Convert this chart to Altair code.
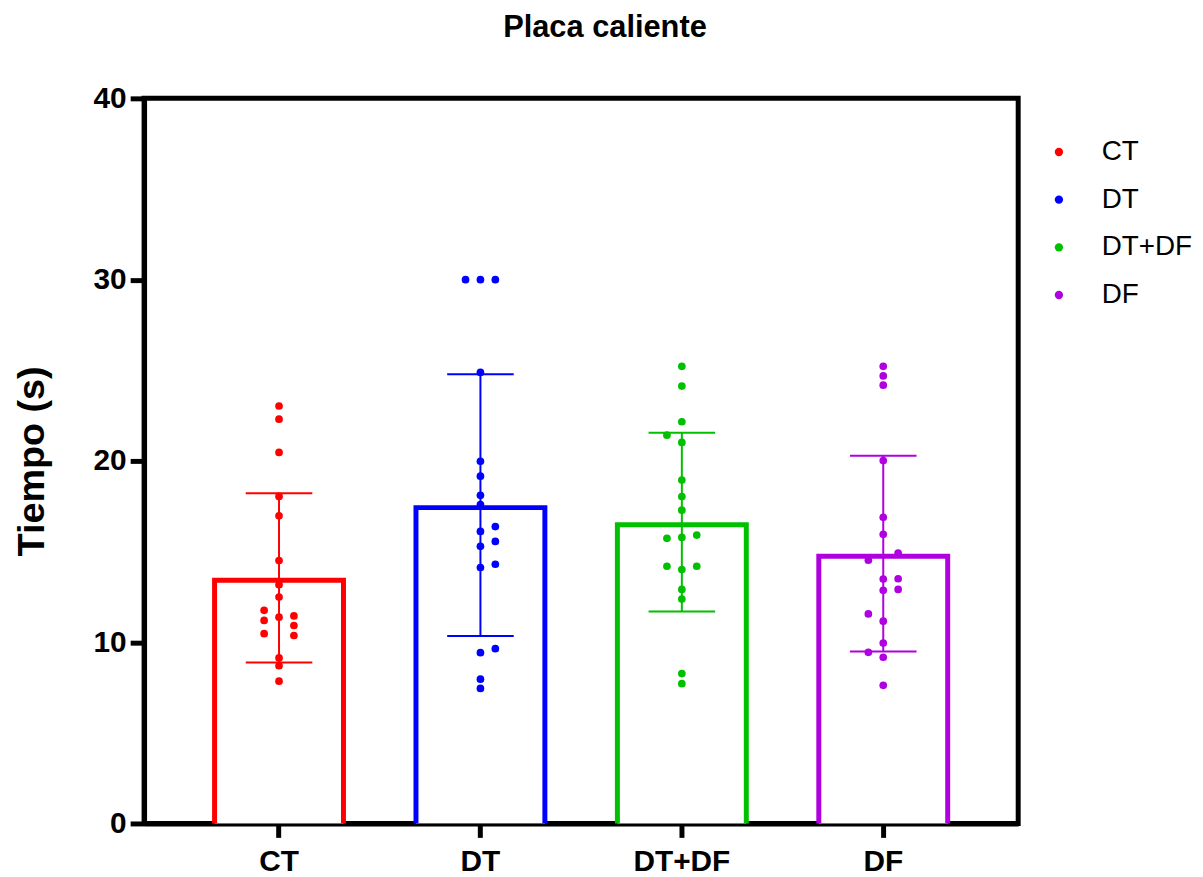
import altair as alt
import pandas as pd

groups = ["CT", "DT", "DT+DF", "DF"]
colors = ["#FF0000", "#0000FF", "#00C000", "#B000E0"]
means = [13.55, 17.56, 16.62, 14.88]
sds = [4.67, 7.22, 4.93, 5.40]

ct_vals = [23.03, 22.30, 20.47, 18.04, 16.97, 14.50, 13.17, 12.49, 11.76, 11.20, 11.38, 11.45, 10.92, 10.47, 10.37, 9.13, 8.70, 7.85]
ct_cols = [0, 0, 0, 0, 0, 0, 0, 0, -1, -1, 0, 1, 1, -1, 1, 0, 0, 0]
dt_vals = [30.0, 30.0, 30.0, 24.88, 19.98, 19.16, 18.10, 17.59, 16.38, 16.11, 15.56, 15.29, 14.30, 14.12, 9.64, 9.42, 7.96, 7.45]
dt_cols = [-1, 0, 1, 0, 0, 0, 0, 0, 1, 0, 1, 0, 1, 0, 1, 0, 0, 0]
dtdf_vals = [25.22, 24.13, 22.16, 21.42, 21.02, 18.94, 18.03, 17.28, 15.91, 15.73, 15.78, 14.19, 14.19, 14.01, 12.91, 12.38, 8.27, 7.71]
dtdf_cols = [0, 0, 0, -1, 0, 0, 0, 0, 1, -1, 0, -1, 1, 0, 0, 0, 0, 0]
df_vals = [25.22, 24.69, 24.18, 20.02, 16.89, 15.95, 14.92, 14.52, 13.48, 13.50, 12.86, 12.91, 11.56, 11.16, 9.95, 9.44, 9.17, 7.62]
df_cols = [0, 0, 0, 0, 0, 0, 1, -1, 0, 1, 0, 1, -1, 0, 0, -1, 0, 0]

rows = []
for g, vals, cols in [("CT", ct_vals, ct_cols), ("DT", dt_vals, dt_cols),
                      ("DT+DF", dtdf_vals, dtdf_cols), ("DF", df_vals, df_cols)]:
    for v, c in zip(vals, cols):
        rows.append({"grp": g, "v": v, "col": c})
points_df = pd.DataFrame(rows)

summary = pd.DataFrame({
    "grp": groups,
    "clr": colors,
    "mean": means,
    "lo": [m - s for m, s in zip(means, sds)],
    "hi": [m + s for m, s in zip(means, sds)],
})

W, H = 880, 730
P_IN, P_OUT = 0.36, 0.35

FONT = "Liberation Sans"
xenc = alt.X("grp:N", sort=groups, title=None,
             scale=alt.Scale(paddingInner=P_IN, paddingOuter=P_OUT),
             axis=alt.Axis(labelAngle=0, labelPadding=9))
yscale = alt.Scale(domain=[0, 40], nice=False)
yaxis = alt.Axis(values=[0, 10, 20, 30, 40], labelPadding=4, titlePadding=42)
ytitle = "Tiempo (s)"
cscale = alt.Scale(domain=groups, range=colors)

base = alt.Chart(summary)
bars = base.mark_bar(fill="white", strokeWidth=5, clip=True, yOffset=2.5).encode(
    x=xenc,
    y=alt.Y("mean:Q", scale=yscale, axis=yaxis, title=ytitle),
    stroke=alt.Stroke("clr:N", scale=None),
)
errs = base.mark_rule(strokeWidth=2).encode(
    x=xenc,
    y=alt.Y("lo:Q", scale=yscale, axis=yaxis, title=ytitle),
    y2="hi:Q",
    stroke=alt.Stroke("clr:N", scale=None),
)
cap_hi = base.mark_tick(size=67, thickness=2, opacity=1).encode(
    x=xenc,
    y=alt.Y("hi:Q", scale=yscale, axis=yaxis, title=ytitle),
    fill=alt.Fill("clr:N", scale=None),
)
cap_lo = base.mark_tick(size=67, thickness=2, opacity=1).encode(
    x=xenc,
    y=alt.Y("lo:Q", scale=yscale, axis=yaxis, title=ytitle),
    fill=alt.Fill("clr:N", scale=None),
)
pts = alt.Chart(points_df).mark_circle(size=60, opacity=1, xOffset=alt.expr("datum.col * 15")).encode(
    x=xenc,
    y=alt.Y("v:Q", scale=yscale, axis=yaxis, title=ytitle),
    color=alt.Color("grp:N", scale=cscale,
                    legend=alt.Legend(title=None, orient="none", legendX=907, legendY=40,
                                      labelFontSize=28, labelFont=FONT, labelColor="black",
                                      symbolSize=70, symbolType="circle", rowPadding=20,
                                      labelOffset=29, symbolStrokeWidth=0, padding=0)),
)

chart = alt.layer(bars, errs, cap_hi, cap_lo, pts).properties(
    width=W, height=H,
    title=alt.TitleParams("Placa caliente", fontSize=31, fontWeight="bold", font=FONT,
                          anchor="middle", frame="group", dx=24, offset=40,
                          color="black"),
    autosize=alt.AutoSizeParams(type="none"),
    padding={"left": 137, "top": 88, "right": 178, "bottom": 60},
).configure_view(
    stroke="black", strokeWidth=5
).configure_axis(
    domainColor="black", domainWidth=5, tickColor="black", tickWidth=5, tickSize=14,
    labelFont=FONT, labelFontSize=30, labelFontWeight="bold", labelColor="black",
    titleFont=FONT, titleFontSize=38, titleFontWeight="bold", titleColor="black",
    grid=False,
)

chart.save("out.html", embed_options={"renderer": "svg", "actions": False})
